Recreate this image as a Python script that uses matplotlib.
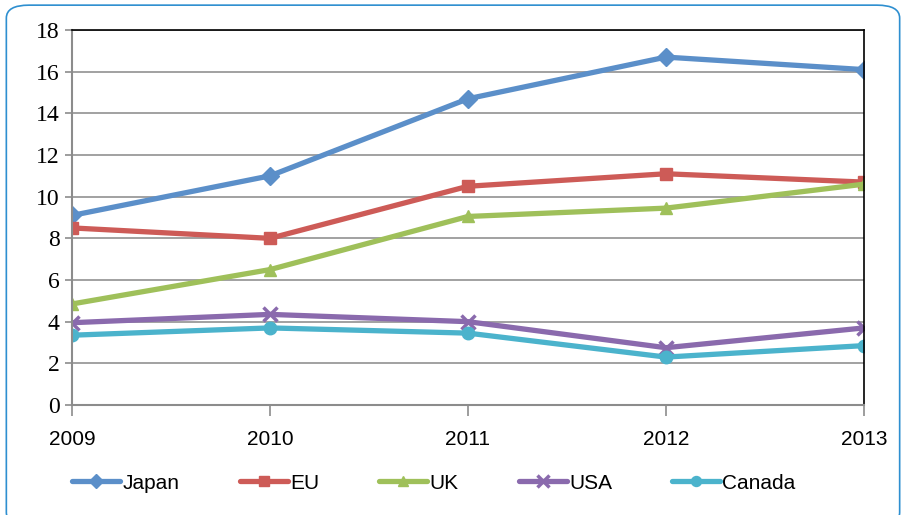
import matplotlib.pyplot as plt
from matplotlib.patches import FancyBboxPatch

years = [2009, 2010, 2011, 2012, 2013]
yticks = list(range(0, 19, 2))
japan = [9.1, 11.0, 14.7, 16.7, 16.1]
eu = [8.5, 8.0, 10.5, 11.1, 10.7]
uk = [4.85, 6.5, 9.05, 9.45, 10.6]
usa = [3.95, 4.35, 4.0, 2.75, 3.7]
canada = [3.35, 3.7, 3.45, 2.3, 2.85]

series = [
    ("Japan", japan, "#5B8FC9", "D"),
    ("EU", eu, "#CD5B57", "s"),
    ("UK", uk, "#9FC05A", "^"),
    ("USA", usa, "#8A6AAD", "x"),
    ("Canada", canada, "#4BB3CC", "o"),
]

fig = plt.figure(figsize=(9.06, 5.15), dpi=100)
border = FancyBboxPatch((0.007, -0.02), 0.986, 1.01, boxstyle="round,pad=0,rounding_size=0.025",
                        transform=fig.transFigure, fill=False, edgecolor="#2E8FD0", linewidth=1.2)
fig.patches.append(border)

ax = fig.add_axes([0.0795, 0.2136, 0.874, 0.7281])
for name, vals, col, mk in series:
    ax.plot(years, vals, color=col, lw=3.8, marker=mk, markersize=9 if mk != "x" else 10,
            mew=2.5 if mk == "x" else 1, label=name, solid_capstyle="round")

ax.set_xlim(2009, 2013)
ax.set_ylim(0, 18)
ax.set_yticks(yticks)
ax.set_yticklabels([str(v) for v in yticks],
                   fontfamily=["Liberation Serif", "DejaVu Serif"], fontsize=17)
ax.set_xticks(years)
ax.set_xticklabels([str(y) for y in years],
                   fontfamily=["Liberation Sans", "DejaVu Sans"], fontsize=15)
ax.grid(axis="y", color="#9A9A9A", lw=1.3)
ax.grid(axis="x", visible=False)
ax.set_axisbelow(True)
for s in ["top", "right"]:
    ax.spines[s].set_color("black")
    ax.spines[s].set_linewidth(1.2)
for s in ["left", "bottom"]:
    ax.spines[s].set_color("#8C8C8C")
    ax.spines[s].set_linewidth(1.5)
ax.tick_params(axis="y", length=5, color="#8C8C8C", width=1.2, pad=4)
ax.tick_params(axis="x", length=8, color="#8C8C8C", width=1.2, pad=10)

leg = fig.legend(loc="center", bbox_to_anchor=(0.479, 0.062), ncol=5, frameon=False,
                 prop={"family": ["Liberation Sans", "DejaVu Sans"], "size": 15},
                 handlelength=2.3, columnspacing=2.9, handletextpad=0.1, markerscale=0.8)

fig.savefig("out.png", dpi=100)
